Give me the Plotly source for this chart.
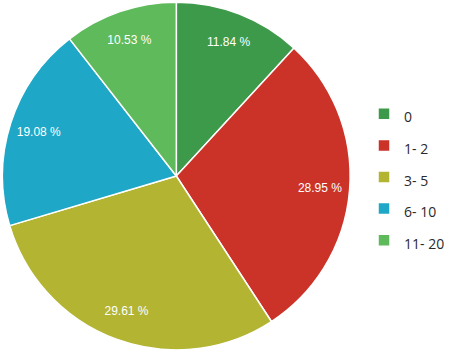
import plotly.graph_objects as go

categories = ["0", "1- 2", "3- 5", "6- 10", "11- 20"]
percentages = [11.84, 28.95, 29.61, 19.08, 10.53]
colors = ["#3c9a4a", "#cc3328", "#b3b432", "#1fa7c7", "#5fba5c"]

W, H = 450, 354
cx, cy, r = 177.5, 176, 175
domain = dict(x=[(cx - r) / W, (cx + r) / W], y=[(H - cy - r) / H, (H - cy + r) / H])

legend_labels = [f"<span style='font-size:14px'>{c}</span>" for c in categories]

fig = go.Figure()
fig.add_trace(go.Pie(
    labels=legend_labels,
    values=percentages,
    marker=dict(colors=colors, line=dict(color="white", width=1.5)),
    sort=False,
    direction="clockwise",
    rotation=0,
    textinfo="none",
    hoverinfo="label+percent",
    domain=domain,
))
# transparent ring that carries the percentage labels near the outer edge
fig.add_trace(go.Pie(
    labels=legend_labels,
    values=percentages,
    hole=0.66,
    marker=dict(colors=["rgba(0,0,0,0)"] * len(categories), line=dict(width=0)),
    sort=False,
    direction="clockwise",
    rotation=0,
    texttemplate="%{value:.2f} %",
    textposition="inside",
    insidetextorientation="horizontal",
    textfont=dict(family="Liberation Sans, Arial", size=12, color="white"),
    hoverinfo="skip",
    showlegend=False,
    domain=domain,
))

fig.update_layout(
    width=W, height=H,
    margin=dict(l=0, r=0, t=0, b=0),
    paper_bgcolor="white",
    showlegend=True,
    legend=dict(
        x=0.815, y=0.5, xanchor="left", yanchor="middle",
        font=dict(family="Open Sans", size=22, color="#2a2a2a"),
        bgcolor="rgba(0,0,0,0)",
    ),
)

fig.write_html("out.html")
